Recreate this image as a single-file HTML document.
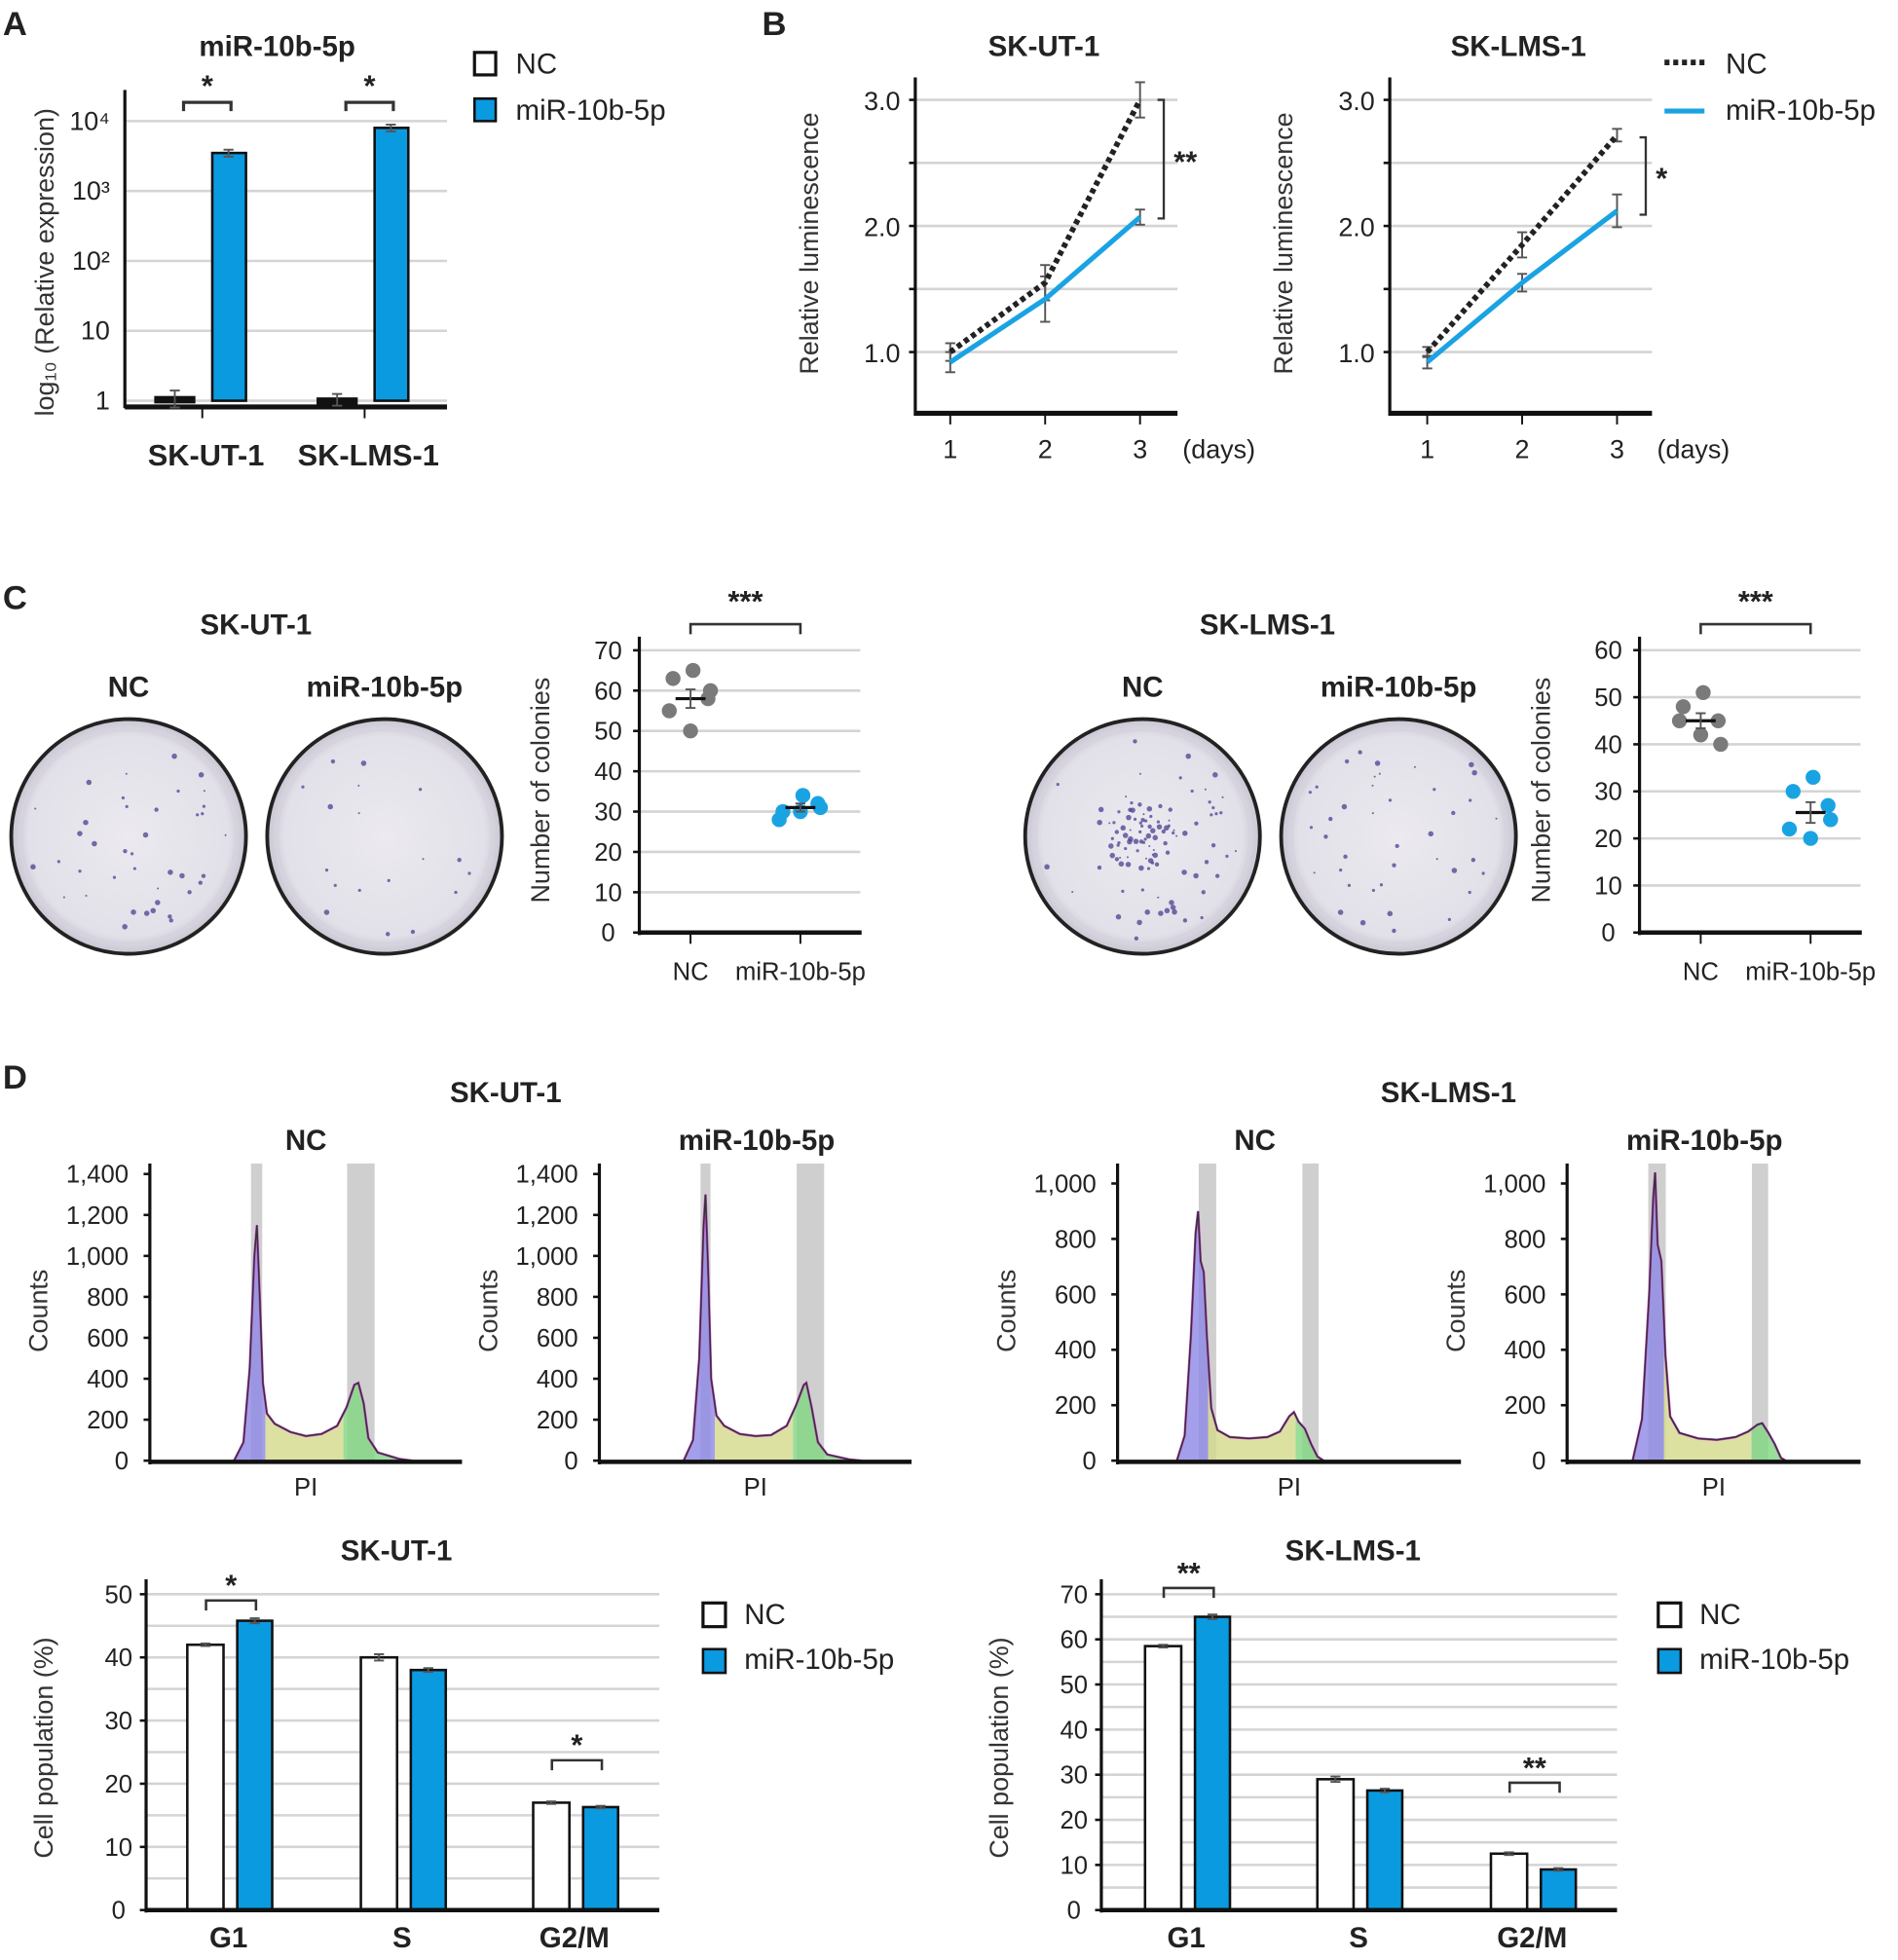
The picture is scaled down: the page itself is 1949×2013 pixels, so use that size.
<!DOCTYPE html>
<html><head><meta charset="utf-8">
<style>
html,body{margin:0;padding:0;background:#fff;}
svg{display:block;font-family:"Liberation Sans",Arial,sans-serif;}
</style></head>
<body>
<svg id="fig" width="1949" height="2013" viewBox="0 0 1520 1570" preserveAspectRatio="none" xmlns="http://www.w3.org/2000/svg">
<defs>
<radialGradient id="dishg" cx="50%" cy="50%" r="50%">
<stop offset="0" stop-color="#eceaf0"/><stop offset="0.85" stop-color="#e2e0e8"/><stop offset="1" stop-color="#c9c6d3"/>
</radialGradient>
</defs>
<g id="root"></g>
</svg>
<script>
// ---------- DATA ----------
// Panel A
const aCategories = ["SK-UT-1","SK-LMS-1"];
const aNC = [1.1, 1.05];
const aNCErr = [0.3, 0.2];
const aMiR = [3500, 8000];
const aMiRErr = [400, 900];
const aTicks = [1,10,100,1000,10000];
const aTickLabels = ["1","10","10²","10³","10⁴"];
// Panel B
const bDays = [1,2,3];
const bTicks = [1.0,1.5,2.0,2.5,3.0];
const bTickLabels = ["1.0","","2.0","","3.0"];
const b1NC = [1.0, 1.55, 3.0];
const b1NCErr = [0.07, 0.14, 0.14];
const b1MiR = [0.92, 1.42, 2.07];
const b1MiRErr = [0.08, 0.18, 0.06];
const b2NC = [1.0, 1.85, 2.72];
const b2NCErr = [0.04, 0.1, 0.05];
const b2MiR = [0.92, 1.55, 2.12];
const b2MiRErr = [0.05, 0.07, 0.13];
// Panel C
const cCategories = ["NC","miR-10b-5p"];
const c1NC = [65,63,58,55,50,60];
const c1MiR = [34,30,32,28,30,31];
const c1Mean = [58, 31];
const c1Sem = [2.3, 1.0];
const c1Ticks = [0,10,20,30,40,50,60,70];
const c2NC = [51,48,45,45,42,40];
const c2MiR = [33,30,27,22,20,24];
const c2Mean = [45, 25.5];
const c2Sem = [1.6, 2.2];
const c2Ticks = [0,10,20,30,40,50,60];
// Panel D histograms: [PI channel, counts]
const h1Curve = [[27,0],[30,90],[32,450],[33.5,1000],[34.3,1150],[35.2,800],[36.2,380],[37.5,230],[40,180],[45,140],[50,120],[55,130],[60,170],[63,260],[65.5,370],[66.8,380],[68.5,280],[70,110],[73,40],[80,8],[84,0]];
const h2Curve = [[27,0],[30,100],[32,500],[33.4,1150],[34,1300],[34.9,900],[35.8,400],[37.5,220],[40,170],[45,130],[50,120],[55,125],[60,170],[63,270],[65.5,370],[66.3,380],[68,260],[70,90],[73,30],[80,6],[84,0]];
const h3Curve = [[19,0],[21.5,90],[23.5,450],[25,820],[25.8,900],[26.6,720],[27.6,680],[28.6,450],[30,190],[32,110],[36,85],[42,80],[48,85],[52,105],[55,160],[56.5,175],[58,140],[60,115],[62,60],[64,15],[66,0]];
const h4Curve = [[21,0],[24,150],[26.3,600],[27.6,950],[28.2,1040],[29,780],[30.2,720],[31.5,380],[33,160],[36,100],[42,80],[48,75],[54,85],[58,105],[61,130],[62.5,135],[64.5,100],[66.5,60],[68.5,10],[70,0]];
const hTicks1 = [0,200,400,600,800,1000,1200,1400];
const hTickLabels1 = ["0","200","400","600","800","1,000","1,200","1,400"];
const hTicks2 = [0,200,400,600,800,1000];
const hTickLabels2 = ["0","200","400","600","800","1,000"];
// Panel D bar charts
const dPhases = ["G1","S","G2/M"];
const d1NC = [42, 40, 17];
const d1NCErr = [0.2, 0.5, 0.2];
const d1MiR = [45.8, 38, 16.3];
const d1MiRErr = [0.4, 0.3, 0.2];
const d1Ticks = [0,10,20,30,40,50];
const d2NC = [58.5, 29, 12.5];
const d2NCErr = [0.3, 0.6, 0.3];
const d2MiR = [65, 26.5, 9];
const d2MiRErr = [0.5, 0.4, 0.3];
const d2Ticks = [0,10,20,30,40,50,60,70];

// ---------- HELPERS ----------
const NS = "http://www.w3.org/2000/svg";
const root = document.getElementById('root');
const BLUE = "#0a9ae0";
function mk(tag, attrs, parent){
  const e = document.createElementNS(NS, tag);
  for (const k in attrs) e.setAttribute(k, attrs[k]);
  (parent||root).appendChild(e);
  return e;
}
function txt(x,y,s,size,anchor,weight,parent){
  const t = mk('text',{x:x,y:y,'font-size':size,'text-anchor':anchor||'middle','font-weight':weight||'normal',fill:'#222'},parent);
  t.textContent = s;
  return t;
}
function vtxt(x,y,s,size,parent){
  const t = mk('text',{x:0,y:0,'font-size':size,'text-anchor':'middle',fill:'#333',transform:`translate(${x},${y}) rotate(-90)`},parent);
  t.textContent = s;
  return t;
}
function line(x1,y1,x2,y2,stroke,w,parent){
  return mk('line',{x1:x1,y1:y1,x2:x2,y2:y2,stroke:stroke,'stroke-width':w},parent);
}
function errbar(x,y1,y2,parent){
  const g = mk('g',{},parent);
  line(x,y1,x,y2,'#555',1.5,g); line(x-4,y1,x+4,y1,'#555',1.5,g); line(x-4,y2,x+4,y2,'#555',1.5,g);
  return g;
}

// ---------- PANEL LETTERS ----------
[["A",12,28],["B",620,28],["C",12,488],["D",12,872]].forEach(p=>{
  const t = txt(p[1],p[2],p[0],27,'middle','bold');
  
  
});

// ---------- PANEL A ----------
(function(){
  const g = mk('g',{});
  
  
  const y = v => 321 - 56*Math.log10(v);
  aTicks.forEach((v,i)=>{
    const gl = line(100,y(v),358,y(v),'#d4d4d4',2,g);
    
    
    const tl = txt(88,y(v)+7,aTickLabels[i],21,'end','normal',g);
    
    
  });
  const xa = line(100,326,358,326,'#111',4,g);
  
  
  const ya = line(100,72,100,327,'#111',2.5,g);
  
  
  const centers = [162, 292];
  aCategories.forEach((c,i)=>{
    const cx = centers[i];
    line(cx,326,cx,335,'#111',1.5,g);
    const n = mk('rect',{x:cx-37,y:y(aNC[i]),width:30,height:Math.max(3,y(1)-y(aNC[i])),fill:'#222',stroke:'#111','stroke-width':3},g);
    
    
    errbar(cx-22,y(aNC[i]+aNCErr[i]),y(Math.max(0.6,aNC[i]-aNCErr[i])),g);
    const m = mk('rect',{x:cx+8,y:y(aMiR[i]),width:27,height:y(1)-y(aMiR[i]),fill:BLUE,stroke:'#111','stroke-width':2},g);
    
    
    errbar(cx+21,y(aMiR[i]+aMiRErr[i]),y(aMiR[i]-aMiRErr[i]),g);
    const br = mk('path',{d:`M${cx-15},89 V82 H${cx+23} V89`,fill:'none',stroke:'#333','stroke-width':2.5},g);
    
    
    txt(cx+4,77,'*',24,'middle','bold',g);
    const xl = txt(cx+3,373,c,24,'middle','bold',g);
    
    
  });
  const tt = txt(222,45,'miR-10b-5p',23,'middle','bold',g);
  
  
  const yt = vtxt(43,210,'log₁₀ (Relative expression)',21,g);
  
  
  const l1 = mk('rect',{x:380,y:42,width:17,height:18,fill:'#fff',stroke:'#111','stroke-width':2.5},g);
  
  
  const l1t = txt(413,59,'NC',23,'start','normal',g);
  
  
  const l2 = mk('rect',{x:380,y:79,width:17,height:18,fill:BLUE,stroke:'#111','stroke-width':2},g);
  
  
  const l2t = txt(413,96,'miR-10b-5p',23,'start','normal',g);
  
  
})();

// ---------- PANEL B ----------
function lineChart(ax0, dayX, title, nc, ncE, mir, mirE, brX, brY1, brY2, stars){
  const g = mk('g',{});
  
  
  const y = v => 282 - 101*(v-1);
  const x = d => dayX + (d-1)*76;
  bTicks.forEach((v,i)=>{
    const gl = line(ax0,y(v),ax0+210,y(v),'#d4d4d4',2,g);
    
    
    line(ax0-5,y(v),ax0,y(v),'#111',2,g);
    if (bTickLabels[i]){
      const tl = txt(ax0-12,y(v)+8,bTickLabels[i],21,'end','normal',g);
      
      
    }
  });
  const xa = line(ax0,331,ax0+210,331,'#111',4,g);
  
  
  const ya = line(ax0,62,ax0,333,'#111',2.5,g);
  
  
  bDays.forEach(d=>{
    line(x(d),331,x(d),340,'#111',1.5,g);
    const tl = txt(x(d),367,String(d),21,'middle','normal',g);
    
    
  });
  txt(ax0+214,367,'(days)',21,'start','normal',g);
  bDays.forEach((d,i)=>{ errbar(x(d),y(nc[i]+ncE[i]),y(nc[i]-ncE[i]),g); errbar(x(d),y(mir[i]+mirE[i]),y(mir[i]-mirE[i]),g); });
  const pm = mk('polyline',{points:bDays.map((d,i)=>x(d)+','+y(mir[i])).join(' '),fill:'none',stroke:'#1aa3e3','stroke-width':4},g);
  
  
  const pn = mk('polyline',{points:bDays.map((d,i)=>x(d)+','+y(nc[i])).join(' '),fill:'none',stroke:'#222','stroke-width':4.5,'stroke-dasharray':'4,3'},g);
  
  
  const br = mk('path',{d:`M${brX-5},${brY1} H${brX} V${brY2} H${brX-5}`,fill:'none',stroke:'#333','stroke-width':1.8},g);
  
  
  txt(brX+8,(brY1+brY2)/2+10,stars,24,'start','bold',g);
  const tt = txt(ax0+103,45,title,23,'middle','bold',g);
  
  
  const yt = vtxt(ax0-78,195,'Relative luminescence',21,g);
  
  
}
lineChart(733,761,'SK-UT-1',b1NC,b1NCErr,b1MiR,b1MiRErr,932,80,175,'**');
lineChart(1113,1143,'SK-LMS-1',b2NC,b2NCErr,b2MiR,b2MiRErr,1318,110,172,'*');
(function(){
  const g = mk('g',{});
  
  
  const a = line(1333,50,1365,50,'#222',4.5,g); a.setAttribute('stroke-dasharray','4,3');
  
  
  txt(1382,59,'NC',23,'start','normal',g);
  const b = line(1333,89,1365,89,'#1aa3e3',4,g);
  
  
  txt(1382,96,'miR-10b-5p',23,'start','normal',g);
})();

// ---------- PANEL C ----------
function dish(cx,cy,name,dots,center){
  const g = mk('g',{});
  
  
  mk('circle',{cx:cx,cy:cy,r:94,fill:'url(#dishg)',stroke:'#222','stroke-width':3},g);
  mk('circle',{cx:cx,cy:cy,r:86,fill:'none',stroke:'#d6d3de','stroke-width':3},g);
  let s = (cx*7+cy)%997;
  for (let i=0;i<dots;i++){
    s = (s*73+41)%1009; const a = s/1009*Math.PI*2;
    s = (s*73+41)%1009; let r = Math.sqrt(s/1009)*82;
    if (center && i%2===0) r = r*0.35;
    s = (s*73+41)%1009; const rr = 0.8 + (s%4)*0.45;
    mk('circle',{cx:cx+r*Math.cos(a),cy:cy+r*Math.sin(a),r:rr,fill:'#4a3f8f',opacity:0.75},g);
  }
}
function scatter(ax0, xs, ticks, sc, title, nc, mir, mean, sem){
  const g = mk('g',{});
  
  
  const y = v => 747 - sc*v;
  ticks.forEach(v=>{
    const gl = line(ax0,y(v),ax0+177,y(v),'#d4d4d4',2,g);
    
    
    line(ax0-5,y(v),ax0,y(v),'#111',2,g);
    const tl = txt(ax0-25,y(v)+7,String(v),20,'middle','normal',g);
    
    
  });
  const xa = line(ax0,747,ax0+178,747,'#111',3.5,g);
  
  
  const ya = line(ax0,510,ax0,749,'#111',2.5,g);
  
  
  const jit = [2,-14,14,-17,0,16];
  [nc,mir].forEach((arr,k)=>{
    line(xs[k],747,xs[k],756,'#111',1.5,g);
    const tl = txt(xs[k],785,cCategories[k],20,'middle','normal',g);
    
    
    arr.forEach((v,i)=>{
      const c = mk('circle',{cx:xs[k]+jit[i],cy:y(v),r:6,fill:k? '#1aa3e3':'#7a7a7a'},g);
      
      
    });
    const m = line(xs[k]-12,y(mean[k]),xs[k]+12,y(mean[k]),'#111',2.5,g);
    
    
    errbar(xs[k],y(mean[k]+sem[k]),y(mean[k]-sem[k]),g);
  });
  const br = mk('path',{d:`M${xs[0]},508 V500 H${xs[1]} V508`,fill:'none',stroke:'#333','stroke-width':2},g);
  
  
  txt((xs[0]+xs[1])/2,490,'***',24,'middle','bold',g);
  const yt = vtxt(ax0-72,633,'Number of colonies',21,g);
  
  
}
[["SK-UT-1",205],["SK-LMS-1",1015]].forEach(p=>{
  const t = txt(p[1],508,p[0],23,'middle','bold');
  
  
});
[["NC",103],["miR-10b-5p",308],["NC",915],["miR-10b-5p",1120]].forEach(p=>{
  const t = txt(p[1],558,p[0],23,'middle','bold');
  
  
});
dish(103,670,'colony-dish-sk-ut-1-nc',40,false);
dish(308,670,'colony-dish-sk-ut-1-mir',18,false);
dish(915,670,'colony-dish-sk-lms-1-nc',110,true);
dish(1120,670,'colony-dish-sk-lms-1-mir',40,false);
scatter(512,[553,641],c1Ticks,3.23,'SK-UT-1',c1NC,c1MiR,c1Mean,c1Sem);
scatter(1313,[1362,1450],c2Ticks,3.77,'SK-LMS-1',c2NC,c2MiR,c2Mean,c2Sem);

// ---------- PANEL D HISTOGRAMS ----------
let clipId = 0;
function hist(ax0, axW, xs, ymax, ticks, tickLabels, curve, title, g1b, g2b, g1end, g2start){
  const g = mk('g',{});
  
  
  const y = v => 1170 - (ymax===1400 ? 0.164 : 0.222)*v;
  const x = p => ax0 + p*xs;
  [g1b,g2b].forEach(b=>{
    const r = mk('rect',{x:x(b[0]),y:932,width:x(b[1])-x(b[0]),height:238,fill:'#cfcfcf'},g);
    
    
  });
  const pts = curve.map(c=>x(c[0])+','+y(c[1])).join(' ');
  const area = 'M'+x(curve[0][0])+',1170 L'+pts.split(' ').join(' L')+' L'+x(curve[curve.length-1][0])+',1170 Z';
  const regions = [[0,g1end,'#8c87e6'],[g1end,g2start,'#d3d98a'],[g2start,100,'#7fd67f']];
  regions.forEach(rg=>{
    const id = 'hc'+(clipId++);
    const cp = mk('clipPath',{id:id},g);
    mk('rect',{x:x(rg[0]),y:900,width:x(rg[1])-x(rg[0]),height:280},cp);
    const a = mk('path',{d:area,fill:rg[2],opacity:0.8,'clip-path':`url(#${id})`},g);
    
    
  });
  mk('polyline',{points:pts,fill:'none',stroke:'#d24cd8','stroke-width':2},g);
  const ol = mk('polyline',{points:pts,fill:'none',stroke:'#333','stroke-width':1.2},g);
  
  
  ticks.forEach((v,i)=>{
    line(ax0-5,y(v),ax0,y(v),'#111',2,g);
    const tl = txt(ax0-17,y(v)+7,tickLabels[i],20,'end','normal',g);
    
    
  });
  const xa = line(ax0,1171,ax0+axW,1171,'#111',3.5,g);
  
  
  const ya = line(ax0,932,ax0,1173,'#111',2.5,g);
  
  
  const xt = txt(ax0+axW/2,1198,'PI',20,'middle','normal',g);
  
  
  const yt = vtxt(ax0-82,1050,'Counts',21,g);
  
  
}
[["SK-UT-1",405],["SK-LMS-1",1160]].forEach(p=>{
  const t = txt(p[1],883,p[0],23,'middle','bold');
  
  
});
[["NC",245],["miR-10b-5p",606],["NC",1005],["miR-10b-5p",1365]].forEach(p=>{
  const t = txt(p[1],921,p[0],23,'middle','bold');
  
  
});
hist(120,250,2.5,1400,hTicks1,hTickLabels1,h1Curve,'sk-ut-1-nc',[32.4,36],[63.2,72],37,62);
hist(480,250,2.5,1400,hTicks1,hTickLabels1,h2Curve,'sk-ut-1-mir',[32.4,35.6],[63.2,72],37,62);
hist(895,275,2.5,1000,hTicks2,hTickLabels2,h3Curve,'sk-lms-1-nc',[26,31.6],[59.2,64.4],29,57);
hist(1255,235,2.5,1000,hTicks2,hTickLabels2,h4Curve,'sk-lms-1-mir',[26,31.6],[59.2,64.4],31,59);

// ---------- PANEL D BARS ----------
function barChart(ax0, axW, centers, ticks, sc, title, nc, ncE, mir, mirE, brackets, legX){
  const g = mk('g',{});
  
  
  const y = v => 1530 - sc*v;
  const top = ticks[ticks.length-1];
  for (let v=5; v<=top; v+=5){
    const gl = line(ax0,y(v),ax0+axW,y(v),'#d4d4d4',2,g);
    
    
  }
  ticks.forEach(v=>{
    line(ax0-5,y(v),ax0,y(v),'#111',2,g);
    const tl = txt(ax0-22,y(v)+7,String(v),20,'middle','normal',g);
    
    
  });
  dPhases.forEach((p,i)=>{
    const c = centers[i];
    const n = mk('rect',{x:c-33,y:y(nc[i]),width:29,height:1530-y(nc[i]),fill:'#fff',stroke:'#111','stroke-width':2},g);
    
    
    errbar(c-18.5,y(nc[i]+ncE[i]),y(nc[i]-ncE[i]),g);
    const m = mk('rect',{x:c+7,y:y(mir[i]),width:28,height:1530-y(mir[i]),fill:BLUE,stroke:'#111','stroke-width':2},g);
    
    
    errbar(c+21,y(mir[i]+mirE[i]),y(mir[i]-mirE[i]),g);
    const xl = txt(c,1560,p,23,'middle','bold',g);
    
    
  });
  brackets.forEach(b=>{
    const c = centers[b[0]];
    const br = mk('path',{d:`M${c-18},${b[1]+8} V${b[1]} H${c+22} V${b[1]+8}`,fill:'none',stroke:'#333','stroke-width':2},g);
    
    
    txt(c+2,b[1]-4,b[2],24,'middle','bold',g);
  });
  const xa = line(ax0,1530,ax0+axW,1530,'#111',3.5,g);
  
  
  const ya = line(ax0,1265,ax0,1532,'#111',2.5,g);
  
  
  const tt = txt(ax0+axW/2-5,1250,title,23,'middle','bold',g);
  
  
  const yt = vtxt(ax0-75,1400,'Cell population (%)',21,g);
  
  
  const l1 = mk('rect',{x:legX,y:1284,width:18,height:19,fill:'#fff',stroke:'#111','stroke-width':2.5},g);
  
  
  txt(legX+33,1301,'NC',23,'start','normal',g);
  const l2 = mk('rect',{x:legX,y:1321,width:18,height:19,fill:BLUE,stroke:'#111','stroke-width':2},g);
  
  
  txt(legX+33,1337,'miR-10b-5p',23,'start','normal',g);
}
barChart(117,411,[183,322,460],d1Ticks,5.06,'SK-UT-1',d1NC,d1NCErr,d1MiR,d1MiRErr,[[0,1282,'*'],[2,1410,'*']],563);
barChart(882,413,[950,1088,1227],d2Ticks,3.614,'SK-LMS-1',d2NC,d2NCErr,d2MiR,d2MiRErr,[[0,1272,'**'],[2,1428,'**']],1328);
</script>
</body></html>
